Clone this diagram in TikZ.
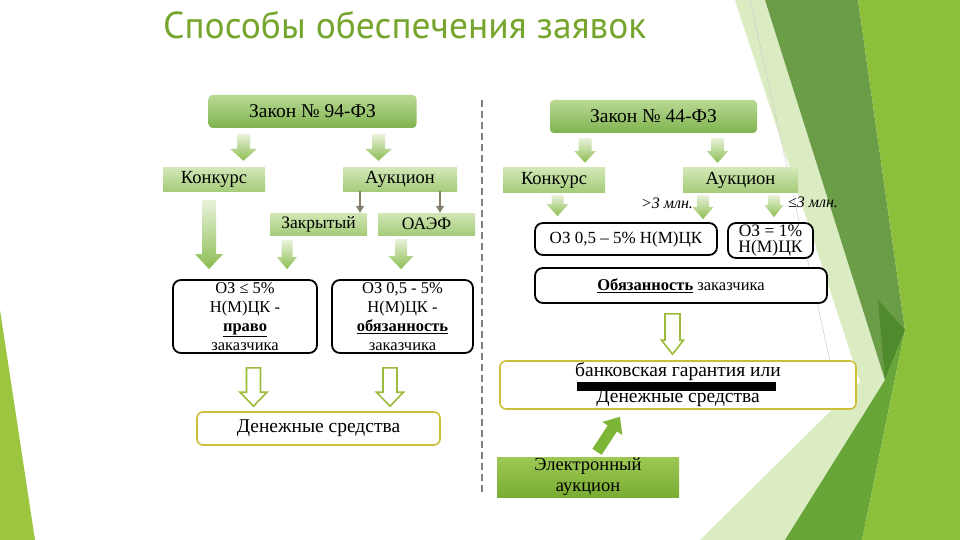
\documentclass[tikz,border=0pt]{standalone}
\usepackage{fontspec}
\setmainfont{Liberation Serif}
\newfontfamily\titlefont{PT Sans}
\usetikzlibrary{arrows.meta,calc}
\definecolor{titlegreen}{HTML}{76A52E}
\definecolor{lawtop}{HTML}{B8D993}
\definecolor{lawbot}{HTML}{80B350}
\definecolor{subtop}{HTML}{D2E7B6}
\definecolor{subbot}{HTML}{A5CC7A}
\definecolor{arrtop}{HTML}{E8F2D9}
\definecolor{arrbot}{HTML}{8CBD52}
\definecolor{grayarr}{HTML}{857F6C}
\definecolor{olive}{HTML}{9DBB3A}
\definecolor{yborder}{HTML}{CDBE3A}
\definecolor{eatop}{HTML}{9DC854}
\definecolor{eabot}{HTML}{79AD33}
\definecolor{diaggreen}{HTML}{7DB536}
\definecolor{dashgray}{HTML}{808080}
\definecolor{decoyellow}{HTML}{8CC03B}
\definecolor{decodark}{HTML}{6B9C47}
\definecolor{decodarker}{HTML}{4F8A2C}
\definecolor{decomed}{HTML}{69A63A}
\definecolor{decopale}{HTML}{CFE6AE}
\definecolor{decoleft}{HTML}{9CC63F}
% block arrow: #1 style, #2 x, #3 from anchor, #4 top gap, #5 to anchor, #6 bottom gap, #7 shaft half, #8 head half, #9 head length
\newcommand\barw[9]{%
  \path[#1] let \p1=(#3), \p2=(#5) in
  (#2-#7,\y1-#4pt) -- (#2+#7,\y1-#4pt) -- (#2+#7,\y2+#6pt+#9pt) -- (#2+#8,\y2+#6pt+#9pt)
  -- (#2,\y2+#6pt) -- (#2-#8,\y2+#6pt+#9pt) -- (#2-#7,\y2+#6pt+#9pt) -- cycle;}
\begin{document}
\begin{tikzpicture}[x=1pt,y=-1pt,
  lawbox/.style={rounded corners=4pt, top color=lawtop, bottom color=lawbot, inner sep=0pt,
    font=\fontsize{19.5}{22}\selectfont, minimum width=#1},
  subbox/.style={top color=subtop, bottom color=subbot, inner sep=0pt, font=\fontsize{18.5}{20}\selectfont},
  wbox/.style={draw=black, line width=1.8pt, rounded corners=8pt, fill=white, align=center, inner sep=0pt,
    font=\fontsize{16.5}{19.2}\selectfont},
  ybox/.style={draw=yborder, line width=1.6pt, rounded corners=6pt, fill=white, align=center, inner sep=0pt,
    font=\fontsize{19.5}{26}\selectfont},
  fillarrow/.style={top color=arrtop, bottom color=arrbot},
  hollowarrow/.style={draw=olive, line width=1.6pt, fill=white},
  thinarrow/.style={draw=grayarr, line width=1.6pt, -{Triangle[width=8pt,length=7pt]}},
  diagarrow/.style={draw=diaggreen, line width=11pt, -{Triangle[width=23pt,length=14pt]}},
  sidelabel/.style={font=\fontsize{16}{18}\selectfont\itshape, inner sep=0pt}
]
\useasboundingbox (0,0) rectangle (960,540);
\fill[white] (0,0) rectangle (960,540);
% decoration
\fill[decoleft] (0,310) -- (35,540) -- (0,540) -- cycle;
\fill[decopale, opacity=0.75] (735,0) -- (765,0) -- (885,380) -- (790,540) -- (700,540) -- (860,382) -- cycle;
\fill[decodark] (765,0) -- (858,0) -- (905,330) -- (885,380) -- cycle;
\fill[decodarker] (878,300) -- (905,330) -- (885,380) -- cycle;
\fill[decomed] (905,330) -- (862,540) -- (785,540) -- (885,380) -- cycle;
\fill[decoyellow] (858,0) -- (960,0) -- (960,540) -- (862,540) -- (905,330) -- cycle;
\draw[gray!40, line width=0.5pt] (750,0) -- (832,370);
% title
\node[font=\titlefont\fontsize{37.5}{40}\selectfont, text=titlegreen, anchor=base west, inner sep=0pt]
  (title) at (163,39) {Способы обеспечения заявок};
% separator
\draw[dashgray, line width=2.5pt, dash pattern=on 7pt off 4pt] (482,100) -- (482,495);
% ---- 94-FZ ----
\node[lawbox=208pt, minimum height=33pt] (b94) at (312.5,111.5) {Закон № 94-ФЗ};
\node[subbox, minimum width=102pt, minimum height=23pt] (k94) at (214,179.5) {Конкурс};
\node[subbox, minimum width=114pt, minimum height=23pt] (a94) at (400,179.5) {Аукцион};
\node[subbox, minimum width=97pt, minimum height=22pt, font=\fontsize{17.5}{20}\selectfont] (z94) at (318.5,224) {Закрытый};
\node[subbox, minimum width=97pt, minimum height=22pt, font=\fontsize{17.5}{20}\selectfont] (o94) at (426.5,224) {ОАЭФ};
\node[wbox, minimum width=144pt, minimum height=73pt] (r94) at (245,316.5)
  {ОЗ ≤ 5\%\\Н(М)ЦК -\\\underline{\textbf{право}}\\заказчика};
\node[wbox, minimum width=141pt, minimum height=73pt] (d94) at (402.5,316.5)
  {ОЗ 0,5 - 5\%\\Н(М)ЦК -\\\underline{\textbf{обязанность}}\\заказчика};
\node[ybox, minimum width=243pt, minimum height=33pt] (m94) at (318.5,428.5) {Денежные средства};
\barw{fillarrow}{243.5}{b94.south}{6}{k94.north}{7}{6.5}{13.5}{12}
\barw{fillarrow}{378.5}{b94.south}{6}{a94.north}{7}{6.5}{13.5}{12}
\barw{fillarrow}{209}{k94.south}{9}{r94.north}{10}{7}{14}{15}
\barw{fillarrow}{287}{z94.south}{5}{r94.north}{10}{5.5}{10}{12}
\barw{fillarrow}{401}{o94.south}{4}{d94.north}{10}{6}{12.5}{13}
\draw[thinarrow] let \p1=(a94.south), \p2=(z94.north) in (360,\y1) -- (360,\y2);
\draw[thinarrow] let \p1=(a94.south), \p2=(o94.north) in (440,\y1) -- (440,\y2);
\barw{hollowarrow}{253.5}{r94.south}{14}{m94.north}{5}{7}{13.5}{14}
\barw{hollowarrow}{390}{d94.south}{14}{m94.north}{5}{7}{13.5}{14}
% ---- 44-FZ ----
\node[lawbox=207pt, minimum height=33pt] (b44) at (653.5,116.5) {Закон № 44-ФЗ};
\node[subbox, minimum width=102pt, minimum height=24pt] (k44) at (554,180) {Конкурс};
\node[subbox, minimum width=115pt, minimum height=24pt] (a44) at (740.5,180) {Аукцион};
\node[wbox, minimum width=182pt, minimum height=32pt, font=\fontsize{17}{19}\selectfont] (oz44) at (626,239) {ОЗ 0,5 – 5\% Н(М)ЦК};
\node[wbox, minimum width=85pt, minimum height=35pt, font=\fontsize{17.5}{16.5}\selectfont] (oz1) at (770.5,240.5) {ОЗ = 1\%\\Н(М)ЦК};
\node[wbox, minimum width=292pt, minimum height=35pt, font=\fontsize{16.5}{19}\selectfont] (ob44) at (681,285.5)
  {\underline{\textbf{Обязанность}} заказчика};
\node[ybox, minimum width=356pt, minimum height=48pt] (bank) at (678,385)
  {банковская гарантия или\\Денежные средства};
\fill[black] (577,382) rectangle (776,391);
\node[top color=eatop, bottom color=eabot, minimum width=182pt, minimum height=40pt, inner sep=0pt,
  align=center, font=\fontsize{18.5}{21}\selectfont] (ea) at (588,477) {Электронный\\аукцион};
\node[sidelabel] (gt3) at (667,203) {>3 млн.};
\node[sidelabel] (le3) at (813,202) {≤3 млн.};
\barw{fillarrow}{585}{b44.south}{5}{k44.north}{5}{6.5}{11}{12}
\barw{fillarrow}{717.5}{b44.south}{5}{a44.north}{5}{6.5}{11}{12}
\barw{fillarrow}{557.5}{k44.south}{3}{oz44.north}{6}{6}{11}{12}
\barw{fillarrow}{703}{a44.south}{3}{oz44.north}{3}{6}{10.5}{12}
\barw{fillarrow}{774}{a44.south}{3}{oz1.north}{5}{6}{9.5}{12}
\barw{hollowarrow}{672.5}{ob44.south}{10}{bank.north}{6}{7.5}{11}{14}
\draw[diagarrow] let \p1=(ea.north), \p2=(bank.south) in (597,\y1+5pt) -- (620,\y2-7pt);
\end{tikzpicture}
\end{document}
